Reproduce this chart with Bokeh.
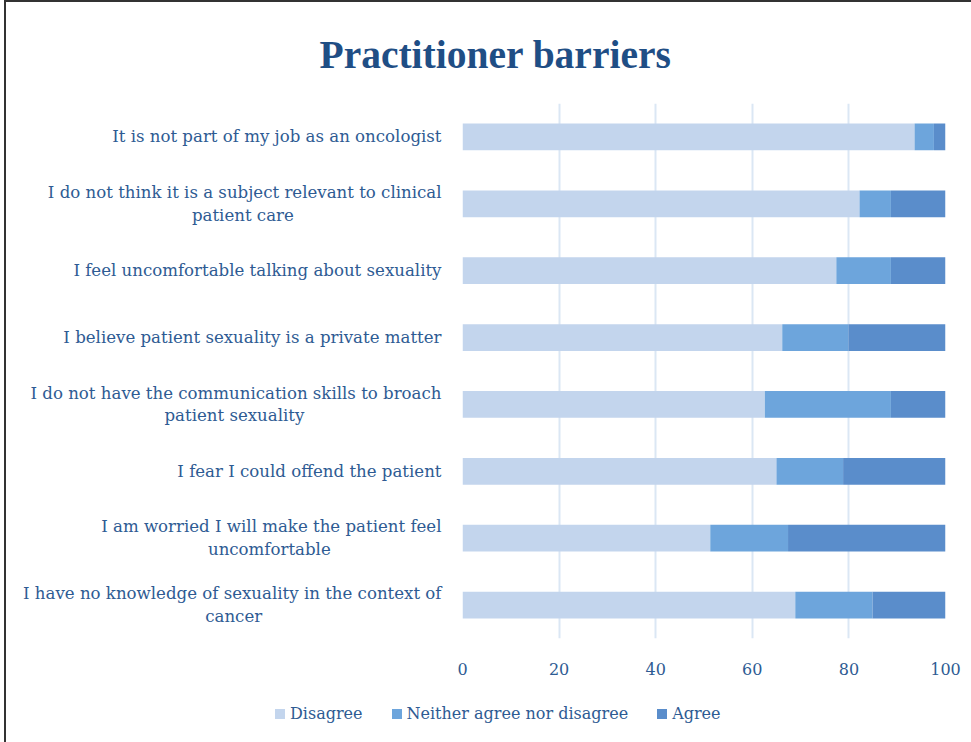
from bokeh.plotting import figure
from bokeh.layouts import column
from bokeh.models import FactorRange, ColumnDataSource, Div
from bokeh.embed import file_html
from bokeh.resources import INLINE

statements = [
    "It is not part of my job as an oncologist",
    "I do not think it is a subject relevant to clinical\npatient care",
    "I feel uncomfortable talking about sexuality",
    "I believe patient sexuality is a private matter",
    "I do not have the communication skills to broach\npatient sexuality",
    "I fear I could offend the patient",
    "I am worried I will make the patient feel\nuncomfortable",
    "I have no knowledge of sexuality in the context of\ncancer",
]
disagree = [93.6, 82.2, 77.4, 66.2, 62.6, 65.0, 51.3, 68.9]
neither = [4.0, 6.5, 11.3, 13.7, 26.1, 13.8, 16.1, 16.0]
agree = [2.4, 11.3, 11.3, 20.1, 11.3, 21.2, 32.6, 15.1]
series_names = ["Disagree", "Neither agree nor disagree", "Agree"]
x_ticks = [0, 20, 40, 60, 80, 100]
title_text = "Practitioner  barriers"

# styling
colors = ["#c3d5ed", "#6da5dc", "#5a8dcb"]
text_color = "#2e5b93"
FONT = "DejaVu Serif"
# trailing no-break spaces that centre a second label line under the first
second_line_pad = {1: 28, 4: 26, 6: 21, 7: 34}

def display_label(i, s):
    if "\n" in s:
        return s + "\u00a0" * second_line_pad.get(i, 0) + "\u200b"
    return s

labels = [display_label(i, s) for i, s in enumerate(statements)]
src = ColumnDataSource(dict(y=labels, Disagree=disagree, Neither=neither, Agree=agree))
yr = FactorRange(factors=list(reversed(labels)))

p = figure(width=962, height=690, output_backend="svg", toolbar_location=None,
           y_range=yr, x_range=(0, 100), min_border_left=456, min_border_right=23,
           min_border_top=101, min_border_bottom=54)

r = p.hbar_stack(["Disagree", "Neither", "Agree"], y="y", height=0.4, source=src,
                 color=colors, line_color=None)

p.title.text = title_text
p.title.align = "left"
p.title.offset = -143
p.title.standoff = 53
p.title.text_font = "Liberation Serif"
p.title.text_font_style = "bold"
p.title.text_font_size = "39.5px"
p.title.text_color = "#1f4e85"

p.xaxis.ticker = x_ticks
p.xaxis.axis_line_color = None
p.xaxis.major_tick_line_color = None
p.xaxis.minor_tick_line_color = None
p.xaxis.major_label_text_font = FONT
p.xaxis.major_label_text_font_size = "16px"
p.xaxis.major_label_text_color = text_color
p.xaxis.major_label_standoff = 18

p.yaxis.axis_line_color = None
p.yaxis.major_tick_line_color = None
p.yaxis.major_label_text_font = FONT
p.yaxis.major_label_text_font_size = "16.6px"
p.yaxis.major_label_text_color = text_color
p.yaxis.major_label_standoff = 15

p.xgrid.grid_line_color = "#dbe7f4"
p.xgrid.grid_line_width = 2
p.ygrid.grid_line_color = None
p.outline_line_color = None

# legend strip below the chart
font_css = f"font-family:{FONT}, serif;font-size:16px;color:{text_color};"
parts = []
for k, (name, col) in enumerate(zip(series_names, colors)):
    gap = "0" if k == 0 else "29px"
    parts.append(
        f'<span style="display:inline-block;width:10px;height:10px;background:{col};'
        f'margin-left:{gap};margin-right:5px;"></span>'
        f'<span style="{font_css}">{name}</span>')
legend_html = (f'<div style="padding-left:264px;padding-top:6px;white-space:nowrap;{font_css}">'
               + "".join(parts) + "</div>")
legend_div = Div(text=legend_html, width=962, height=46)

layout = column(p, legend_div, spacing=0,
                styles={"border-left": "2px solid #333", "border-top": "2px solid #333",
                        "margin-left": "4px"})

open("out.html", "w").write(file_html(layout, INLINE))
